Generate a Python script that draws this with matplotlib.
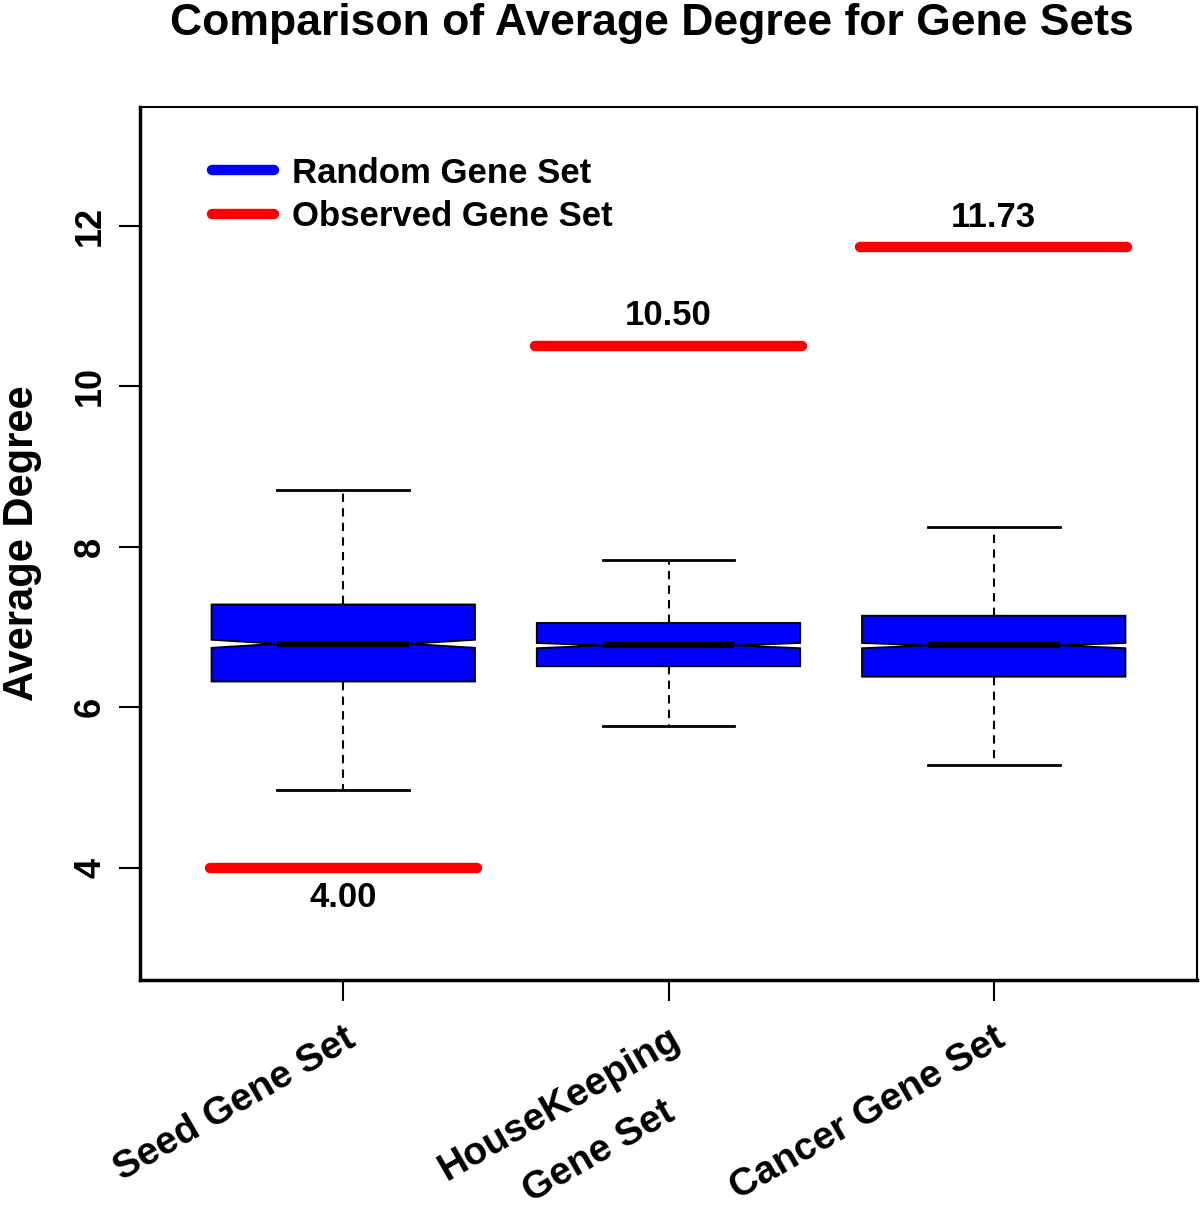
import matplotlib
matplotlib.use("Agg")
import matplotlib.pyplot as plt
from matplotlib.lines import Line2D

plt.rcParams['font.family'] = ['Liberation Sans', 'DejaVu Sans']
plt.rcParams['font.weight'] = 'bold'

# ---- data ----
categories = ["Seed Gene Set", "HouseKeeping\nGene Set", "Cancer Gene Set"]
q1 = [6.32, 6.51, 6.38]
q3 = [7.28, 7.05, 7.14]
medians = [6.79, 6.77, 6.77]
whislo = [4.97, 5.77, 5.28]
whishi = [8.71, 7.83, 8.25]
cilo = [6.74, 6.735, 6.735]
cihi = [6.84, 6.80, 6.80]
observed = [4.00, 10.50, 11.73]
observed_labels = ["4.00", "10.50", "11.73"]
yticks = [4, 6, 8, 10, 12]

fig = plt.figure(figsize=(12, 12.12), dpi=100)
ax = fig.add_axes([140/1200, 1 - 980/1212, 1057/1200, 873/1212])

stats = []
for i in range(len(categories)):
    stats.append(dict(med=medians[i], q1=q1[i], q3=q3[i], whislo=whislo[i],
                      whishi=whishi[i], cilo=cilo[i], cihi=cihi[i], fliers=[]))

positions = list(range(1, len(categories) + 1))
ax.bxp(stats, positions=positions, widths=0.81, shownotches=True, patch_artist=True,
       showfliers=False,
       boxprops=dict(facecolor='#0000FF', edgecolor='black', linewidth=1.3),
       medianprops=dict(color='black', linewidth=4.5, solid_capstyle='butt'),
       whiskerprops=dict(color='black', linewidth=1.5, linestyle=(0, (4, 3))),
       capprops=dict(color='black', linewidth=2.0))

for p, v, lab in zip(positions, observed, observed_labels):
    ax.hlines(v, p - 0.41, p + 0.41, colors='#FF0000', linewidth=7.5, capstyle='round')
    if v < min(whislo):
        ax.text(p, v - 0.17, lab, ha='center', va='top', fontsize=25, fontweight='bold')
    else:
        ax.text(p, v + 0.17, lab, ha='center', va='bottom', fontsize=25, fontweight='bold')

ax.set_xlim(0.375, 3.625)
ax.set_ylim(2.6, 13.48)
ax.set_yticks(yticks)
ax.set_yticklabels([str(t) for t in yticks], rotation=90, va='center', fontsize=26, fontweight='bold')
ax.set_xticks(positions)
first_lines = [c.split("\n")[0] for c in categories]
ax.set_xticklabels(first_lines, rotation=30, ha='right', rotation_mode='anchor',
                   fontsize=28, fontweight='bold')
# second lines of multi-line category names, centred below the first line
for p, c in zip(positions, categories):
    parts = c.split("\n")
    if len(parts) > 1:
        ax.annotate(parts[1], xy=(p, 0), xycoords=('data', 'axes fraction'),
                    xytext=(-50, -124), textcoords='offset points',
                    ha='center', va='center', rotation=30, rotation_mode='anchor',
                    fontsize=28, fontweight='bold', annotation_clip=False)
ax.tick_params(axis='both', direction='out', length=15, width=1.5, pad=8)
ax.tick_params(axis='x', pad=14)

for s in ['top', 'right']:
    ax.spines[s].set_linewidth(1.5)
for s in ['left', 'bottom']:
    ax.spines[s].set_linewidth(2.5)

ax.set_ylabel("Average Degree", fontsize=30, fontweight='bold', labelpad=22)
fig.text(652/1200, 1 - 35/1212, "Comparison of Average Degree for Gene Sets",
         ha='center', va='baseline', fontsize=32, fontweight='bold')

handles = [Line2D([0], [0], color='#0000FF', lw=7.5, solid_capstyle='round'),
           Line2D([0], [0], color='#FF0000', lw=7.5, solid_capstyle='round')]
ax.legend(handles, ["Random Gene Set", "Observed Gene Set"], loc='upper left',
          frameon=False, prop=dict(size=25, weight='bold'), handlelength=1.8,
          handletextpad=0.5, borderaxespad=0.6, bbox_to_anchor=(0.035, 0.983),
          labelspacing=0.3)

fig.savefig("out.png", dpi=100)
